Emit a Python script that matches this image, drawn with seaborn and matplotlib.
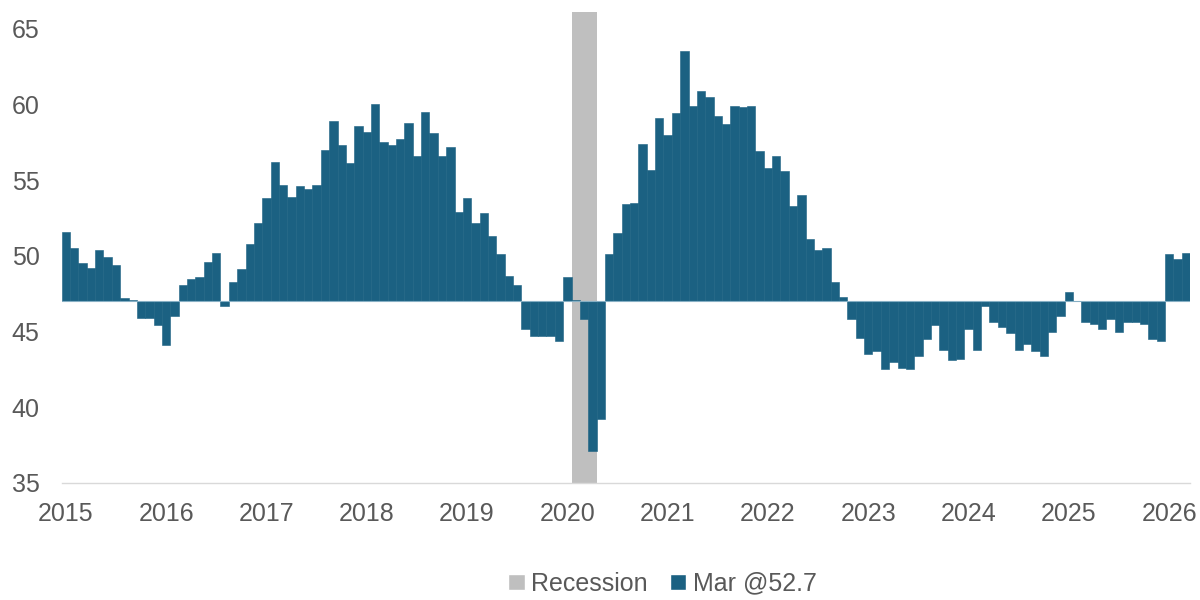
import numpy as np
import pandas as pd
import matplotlib.pyplot as plt
import seaborn as sns
from matplotlib.patches import Patch

# monthly index readings, Jan 2015 .. Mar 2026
months = pd.date_range("2015-01-01", "2026-03-01", freq="MS")
values = [
    51.6, 50.5, 49.5, 49.2, 50.4, 49.9, 49.4, 47.2, 47.1, 45.9, 45.9, 45.4,  # 2015
    44.1, 46.0, 48.1, 48.5, 48.6, 49.6, 50.2, 46.7, 48.3, 49.1, 50.8, 52.2,  # 2016
    53.8, 56.2, 54.7, 53.9, 54.6, 54.4, 54.7, 57.0, 58.9, 57.3, 56.1, 58.6,  # 2017
    58.2, 60.0, 57.5, 57.3, 57.7, 58.8, 56.6, 59.5, 58.1, 56.6, 57.2, 52.9,  # 2018
    53.8, 52.2, 52.8, 51.3, 50.1, 48.7, 48.1, 45.2, 44.7, 44.7, 44.7, 44.4,  # 2019
    48.6, 47.1, 45.8, 37.1, 39.2, 50.1, 51.5, 53.4, 53.5, 57.4, 55.7, 59.1,  # 2020
    58.0, 59.4, 63.5, 59.9, 60.9, 60.5, 59.2, 58.7, 59.9, 59.8, 59.9, 56.9,  # 2021
    55.8, 56.6, 55.6, 53.3, 54.0, 51.1, 50.4, 50.5, 48.3, 47.3, 45.8, 44.6,  # 2022
    43.5, 43.7, 42.5, 43.0, 42.6, 42.5, 43.4, 44.5, 45.4, 43.8, 43.1, 43.2,  # 2023
    45.2, 43.8, 46.7, 45.6, 45.3, 44.9, 43.8, 44.2, 43.7, 43.4, 45.0, 46.0,  # 2024
    47.6, 47.0, 45.6, 45.5, 45.2, 45.8, 45.0, 45.6, 45.6, 45.5, 44.5, 44.4,  # 2025
    50.1, 49.8, 50.2,                                                        # 2026
]
baseline = 47.0
recession_months = ["2020-02-01", "2020-04-01"]
year_labels = [str(y) for y in range(2015, 2027)]
y_ticks = [35, 40, 45, 50, 55, 60, 65]

bar_color = "#1B6182"
rec_color = "#BFBFBF"
text_color = "#595959"

df = pd.DataFrame({"month": months, "value": values})
df["pos"] = np.arange(len(df))
df["height"] = df["value"] - baseline

sns.set_theme(style="white")
plt.rcParams["font.family"] = ["Liberation Sans", "DejaVu Sans"]

fig = plt.figure(figsize=(12, 6), dpi=100)
ax = fig.add_axes([0.0514, 0.195, 0.9403, 0.785])

# recession shading (behind the bars)
r0 = df.index[df["month"] == recession_months[0]][0]
r1 = df.index[df["month"] == recession_months[1]][0]
ax.axvspan(r0 - 0.5, r1 + 0.5, color=rec_color, lw=0, zorder=0)

sns.barplot(data=df, x="pos", y="height", order=list(df["pos"]), bottom=baseline,
            color=bar_color, saturation=1, width=1.0, errorbar=None,
            edgecolor=bar_color, linewidth=0.4, ax=ax, zorder=2)
# thin light line along the base of the bars
ax.axhline(baseline, color="#86AFC4", lw=0.8, zorder=3)

ax.set_xlim(-0.5, len(df) - 0.5)
ax.set_ylim(35, 66.1)
ax.set_yticks(y_ticks)
ax.set_yticklabels([str(t) for t in y_ticks])
ax.set_xticks(df["pos"][df["month"].dt.month == 1])
ax.set_xticklabels(year_labels)
ax.set_xlabel("")
ax.set_ylabel("")

for s in ["top", "right", "left"]:
    ax.spines[s].set_visible(False)
ax.spines["bottom"].set_color("#D9D9D9")
ax.spines["bottom"].set_linewidth(1)
ax.tick_params(axis="both", length=0, labelsize=18, colors=text_color)
ax.tick_params(axis="x", pad=14)
ax.tick_params(axis="y", pad=16)

handles = [Patch(facecolor=rec_color, label="Recession"),
           Patch(facecolor=bar_color, label="Mar @52.7")]
fig.legend(handles=handles, loc="center", bbox_to_anchor=(0.552, 0.027), ncol=2,
           frameon=False, fontsize=18, labelcolor=text_color,
           handlelength=0.65, handleheight=0.65, handletextpad=0.25, columnspacing=0.9)

fig.savefig("out.png", dpi=100)
